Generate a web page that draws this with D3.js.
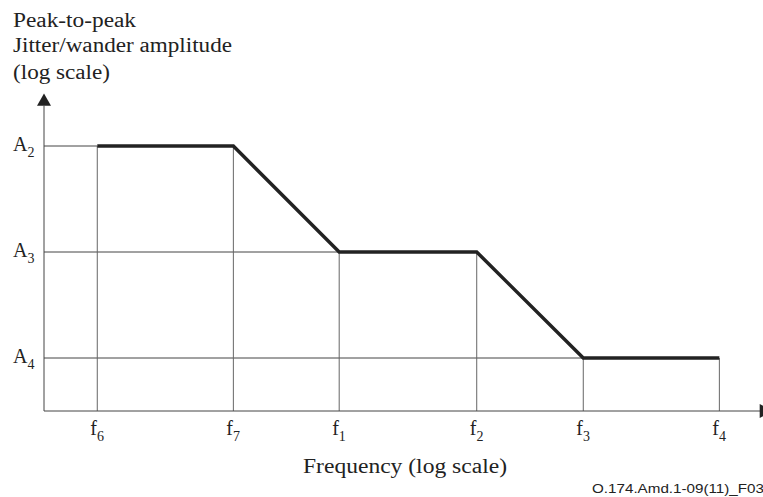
<!DOCTYPE html>
<html>
<head>
<meta charset="utf-8">
<script src="https://cdn.jsdelivr.net/npm/d3@7"></script>
<style>
  body { margin: 0; background: #fff; }
  svg { display: block; }
  text { font-family: "Liberation Serif", "Times New Roman", serif; fill: #222; }
</style>
</head>
<body>
<svg id="chart" width="763" height="497"></svg>
<script>
// frequency breakpoints (position on log axis, arbitrary decades)
const freqNames = ['6', '7', '1', '2', '3', '4'];
const freqLog = [0.74, 2.63, 4.1, 6.01, 7.49, 9.38];

// amplitude levels (log units)
const ampNames = ['2', '3', '4'];
const ampLog = [2.5, 1.5, 0.5];

// mask: amplitude index for each frequency breakpoint
const maskAmp = [0, 0, 1, 1, 2, 2];

const titleLines = ['Peak-to-peak', 'Jitter/wander amplitude', '(log scale)'];
const xTitle = 'Frequency (log scale)';
const figId = 'O.174.Amd.1-09(11)_F03';

const svg = d3.select('#chart');
const x0 = 44, y0 = 411;

const x = d3.scaleLinear().domain([0, 10]).range([x0, x0 + 720]);
const y = d3.scaleLinear().domain([0, 3]).range([y0, y0 - 318]);

const thin = '#444';
const dark = '#222';

// horizontal guide lines from y axis to first breakpoint on that level
ampLog.forEach((a, i) => {
  const first = maskAmp.indexOf(i);
  svg.append('line')
    .attr('x1', x0).attr('x2', x(freqLog[first]))
    .attr('y1', y(a)).attr('y2', y(a))
    .attr('stroke', thin).attr('stroke-width', 1);
});

// vertical guide lines from x axis to mask
freqLog.forEach((f, i) => {
  svg.append('line')
    .attr('x1', x(f)).attr('x2', x(f))
    .attr('y1', y0).attr('y2', y(ampLog[maskAmp[i]]))
    .attr('stroke', '#666').attr('stroke-width', 1);
});

// axes
svg.append('line')
  .attr('x1', x0).attr('x2', x0)
  .attr('y1', y0).attr('y2', y(2.88))
  .attr('stroke', thin).attr('stroke-width', 1);
svg.append('path')
  .attr('d', `M${x0},${y(2.995)}L${x0 - 7},${y(2.88)}L${x0 + 7},${y(2.88)}Z`)
  .attr('fill', dark);

svg.append('line')
  .attr('x1', x0).attr('x2', x(10.0))
  .attr('y1', y0).attr('y2', y0)
  .attr('stroke', thin).attr('stroke-width', 1);
svg.append('path')
  .attr('d', `M${x(9.94)},${y0 - 7}L${x(10.12)},${y0}L${x(9.94)},${y0 + 7}Z`)
  .attr('fill', dark);

// mask line
const line = d3.line()
  .x((d, i) => x(freqLog[i]))
  .y(d => y(ampLog[d]));
svg.append('path')
  .datum(maskAmp)
  .attr('fill', 'none')
  .attr('stroke', dark)
  .attr('stroke-width', 3.5)
  .attr('stroke-linejoin', 'miter')
  .attr('d', line);

// y tick labels
ampLog.forEach((a, i) => {
  const t = svg.append('text')
    .attr('x', 13).attr('y', y(a) + 5)
    .attr('font-size', 20);
  t.append('tspan').text('A');
  t.append('tspan').attr('font-size', 14).attr('dy', 6).text(ampNames[i]);
});

// x tick labels
freqLog.forEach((f, i) => {
  const t = svg.append('text')
    .attr('x', x(f) - 7).attr('y', y0 + 24)
    .attr('font-size', 20);
  t.append('tspan').text('f');
  t.append('tspan').attr('font-size', 14).attr('dy', 6).text(freqNames[i]);
});

// titles
const titleW = [123, 219, 97];
const titleY = [27, 52, 79];
titleLines.forEach((s, i) => {
  svg.append('text')
    .attr('x', 13).attr('y', titleY[i])
    .attr('font-size', 20)
    .attr('textLength', titleW[i])
    .attr('lengthAdjust', 'spacingAndGlyphs')
    .text(s);
});

svg.append('text')
  .attr('x', 303).attr('y', 473)
  .attr('font-size', 20)
  .attr('textLength', 204)
  .attr('lengthAdjust', 'spacingAndGlyphs')
  .text(xTitle);

svg.append('text')
  .attr('x', 592).attr('y', 493)
  .attr('font-size', 13)
  .attr('textLength', 172)
  .attr('lengthAdjust', 'spacingAndGlyphs')
  .style('font-family', '"Liberation Sans", Arial, sans-serif')
  .text(figId);
</script>
</body>
</html>
